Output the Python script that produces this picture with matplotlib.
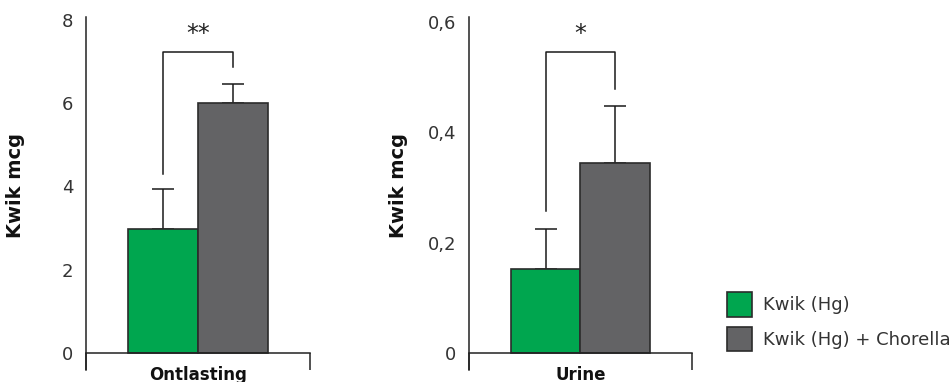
import matplotlib.pyplot as plt
from matplotlib.patches import Patch

# data
panels = ['Ontlasting', 'Urine']
series = ['Kwik (Hg)', 'Kwik (Hg) + Chorella']
means = {'Ontlasting': [2.97, 6.0], 'Urine': [0.152, 0.344]}
errors = {'Ontlasting': [0.98, 0.47], 'Urine': [0.073, 0.104]}
yticks = {'Ontlasting': [0, 2, 4, 6, 8], 'Urine': [0, 0.2, 0.4, 0.6]}
ytick_labels = {'Ontlasting': ['0', '2', '4', '6', '8'], 'Urine': ['0', '0,2', '0,4', '0,6']}
ylims = {'Ontlasting': (-0.408, 8.07), 'Urine': (-0.0308, 0.609)}
stars = {'Ontlasting': '**', 'Urine': '*'}
# bracket: left foot, top, right foot, star height
brackets = {'Ontlasting': (4.30, 7.23, 6.87, 7.66), 'Urine': (0.257, 0.546, 0.479, 0.578)}

colors = ['#00a64f', '#636365']
edge = '#2b2b2b'
text_col = '#333333'
plt.rcParams['font.family'] = 'DejaVu Sans'

fig = plt.figure(figsize=(9.53, 3.82), dpi=100)
axes_pos = [[86/953, 12/382, 224/953, 353/382],
            [469/953, 12/382, 223/953, 353/382]]

w = 0.3125
for pos, name in zip(axes_pos, panels):
    ax = fig.add_axes(pos)
    xs = [-w/2, w/2]
    for x, m, e, c in zip(xs, means[name], errors[name], colors):
        ax.bar(x, m, width=w, color=c, edgecolor=edge, linewidth=1.2, zorder=2)
        ax.errorbar(x, m, yerr=[[0], [e]], fmt='none', ecolor='#1a1a1a',
                    elinewidth=1.1, capsize=8, capthick=1.1, zorder=1)
    lf, top, rf, sy = brackets[name]
    ax.plot([xs[0], xs[0], xs[1], xs[1]], [lf, top, top, rf], color='#1a1a1a', lw=1.1)
    ax.text(0, sy, stars[name], ha='center', va='center', fontsize=17,
            color='#222222')

    ax.set_xlim(-0.5, 0.5)
    ax.set_ylim(*ylims[name])
    for s in ['top', 'right']:
        ax.spines[s].set_visible(False)
    ax.spines['bottom'].set_position(('data', 0))
    for s in ['left', 'bottom']:
        ax.spines[s].set_color('#222222')
        ax.spines[s].set_linewidth(1.1)

    ax.set_yticks(yticks[name])
    ax.set_yticklabels(ytick_labels[name])
    ax.tick_params(axis='y', length=0, pad=9, labelsize=13, labelcolor=text_col)

    ax.set_xticks([0])
    ax.set_xticklabels([name], fontweight='bold', fontsize=12, color='#111111')
    ax.tick_params(axis='x', length=0, pad=9)
    ax.set_xticks([-0.5, 0.5], minor=True)
    ax.tick_params(axis='x', which='minor', length=12.5, width=1.1, color='#222222', direction='out')

    ax.set_ylabel('Kwik mcg', fontweight='bold', fontsize=14, color='#111111')
    ax.yaxis.set_label_coords(-61/224, 0.524)

handles = [Patch(facecolor=c, edgecolor=edge, linewidth=1.2) for c in colors]
fig.legend(handles, series, loc='upper left', bbox_to_anchor=(727/953, 1 - 292/382),
           frameon=False, borderpad=0, borderaxespad=0, handlelength=1.38,
           handleheight=1.73, labelspacing=0.55, handletextpad=0.62,
           fontsize=13, labelcolor=text_col)

fig.savefig('out.png', dpi=100)
